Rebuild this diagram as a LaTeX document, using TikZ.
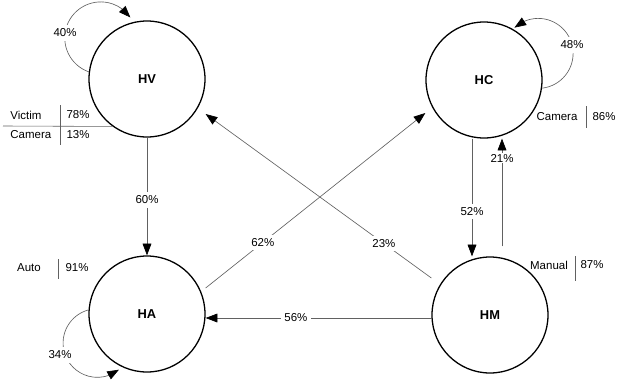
\documentclass[tikz,border=0pt]{standalone}
\usepackage{fontspec}
\setmainfont{Liberation Sans}
\usepackage{tikz}
\usetikzlibrary{arrows.meta,calc,bending}
\definecolor{edgegray}{rgb}{0.38,0.38,0.38}

\begin{document}
\begin{tikzpicture}[x=0.03cm,y=0.03cm,
    state/.style={circle,draw=black,line width=1.1pt,minimum size=3.48cm,inner sep=0pt,
        font=\bfseries\fontsize{11}{13}\selectfont},
    flow/.style={draw=edgegray,line width=0.55pt,-{Triangle[length=10pt,width=7.5pt,color=black]}},
    pct/.style={fill=white,inner sep=3pt,font=\fontsize{9.8}{11}\selectfont},
    txt/.style={inner sep=1pt,font=\fontsize{9.8}{11}\selectfont},
    rule/.style={draw=edgegray,line width=0.5pt}]
                \useasboundingbox (0,0) rectangle (617,-385);
                %States
                \node[state] (HV) at (147,-79) {HV};
                \node[state] (HC) at (484,-80) {HC};
                \node[state] (HA) at (147,-314) {HA};
                \node[state] (HM) at (490,-315) {HM};
                %Transitions
                \draw[flow] (HV.south) -- node[pct,pos=0.53]{60\%} (HA.north);
                \draw[flow] ($(HC.south)+(-12,0)$) -- node[pct,pos=0.62]{52\%} ($(HM.north)+(-18,0)$);
                \draw[flow] ($(HM.north)+(12,10)$) -- node[pct,pos=0.82,inner ysep=1pt]{21\%} ($(HC.south)+(18,0)$);
                \draw[flow] ($(HA.east)+(0,26)$) -- node[pct,pos=0.26]{62\%} ($(HC.west)+(0,-33)$);
                \draw[flow] ($(HM.west)+(0,37)$) -- node[pct,pos=0.21]{23\%} ($(HV.east)+(0,-35)$);
                \draw[flow] ($(HM.west)+(0,-3)$) -- node[pct,pos=0.60]{56\%} ($(HA.east)+(0,-4)$);
                %Self loops
                \draw[flow] (HV.173) arc[start angle=250.6, end angle=34.6, radius=36];
                \node[pct] (l40) at (65,-33) {40\%};
                \draw[flow] (HC.-8) arc[start angle=-83.5, end angle=132.6, radius=35];
                \node[pct] (l48) at (572,-45) {48\%};
                \draw[flow] (HA.176) arc[start angle=105, end angle=309, radius=34.3];
                \node[pct] (l34) at (60,-355) {34\%};
                %Tables
                \draw[rule] (HV.234) -- (3,-126);
                \draw[rule] (60,-105) -- (60,-145);
                \node[txt,anchor=west] (vic) at (9,-115) {Victim};
                \node[txt,anchor=west] (camv) at (9,-135) {Camera};
                \node[txt] (p78) at (78,-115) {78\%};
                \node[txt] (p13) at (78,-135) {13\%};
                \draw[rule] (586,-106) -- (586,-128);
                \node[txt] (camc) at (557,-117) {Camera};
                \node[txt] (p86) at (604,-117) {86\%};
                \draw[rule] (58,-259) -- (58,-279);
                \node[txt] (auto) at (29,-268) {Auto};
                \node[txt] (p91) at (77,-268) {91\%};
                \draw[rule] (575,-256) -- (575,-281);
                \node[txt] (man) at (549,-265) {Manual};
                \node[txt] (p87) at (592,-265) {87\%};
\end{tikzpicture}
\end{document}
